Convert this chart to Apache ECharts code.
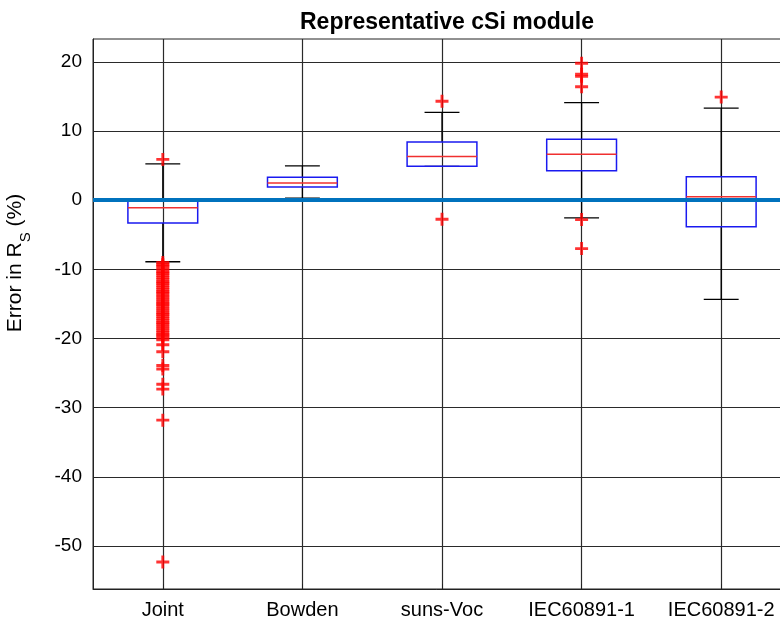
<!DOCTYPE html>
<html>
<head>
<meta charset="utf-8">
<script src="https://cdn.jsdelivr.net/npm/echarts@6/dist/echarts.min.js"></script>
<style>
  html, body { margin: 0; padding: 0; background: #fff; }
  #chart { width: 780px; height: 622px; }
</style>
</head>
<body>
<div id="chart"></div>
<script>
// categories along x (positions 1..5)
const categories = ["Joint", "Bowden", "suns-Voc", "IEC60891-1", "IEC60891-2"];
const yTicks = [-50, -40, -30, -20, -10, 0, 10, 20];

// box stats per category: lower whisker, q1, median, q3, upper whisker
const lowWhisker = [-8.9, 0.3, 4.9, -2.55, -14.35];
const q1 = [-3.3, 1.9, 4.9, 4.25, -3.85];
const median = [-1.1, 2.5, 6.3, 6.65, 0.5];
const q3 = [0.15, 3.3, 8.4, 8.8, 3.4];
const highWhisker = [5.25, 4.95, 12.7, 14.1, 13.3];

// outliers per category
const jointOutliers = [5.9, -9.0, -9.3, -9.5, -9.8, -10.1, -10.4, -10.6, -10.9, -11.2, -11.5, -11.8,
  -12.0, -12.3, -12.6, -12.9, -13.2, -13.4, -13.7, -14.0, -14.3, -14.6, -14.9, -15.1, -15.4, -15.7,
  -16.0, -16.3, -16.5, -16.8, -17.1, -17.4, -17.7, -17.9, -18.2, -18.5, -18.8, -19.1, -19.4, -19.6,
  -19.9, -20.2, -20.9, -21.9, -23.9, -24.4, -26.6, -27.3, -31.8, -52.3];
const bowdenOutliers = [];
const sunsVocOutliers = [14.3, -2.75];
const iec1Outliers = [19.8, 18.2, 17.9, 16.4, -2.8, -7.0];
const iec2Outliers = [14.9];

const chart = echarts.init(document.getElementById("chart"));

const boxData = categories.map((c, i) => [i + 1, lowWhisker[i], q1[i], median[i], q3[i], highWhisker[i]]);
const outlierData = [];
[jointOutliers, bowdenOutliers, sunsVocOutliers, iec1Outliers, iec2Outliers].forEach((arr, i) => {
  arr.forEach(v => outlierData.push([i + 1, v]));
});

function renderBox(params, api) {
  const x = api.value(0);
  const pLow = api.coord([x, api.value(1)]);
  const pQ1 = api.coord([x, api.value(2)]);
  const pMed = api.coord([x, api.value(3)]);
  const pQ3 = api.coord([x, api.value(4)]);
  const pHigh = api.coord([x, api.value(5)]);
  const unit = api.size([1, 0])[0];
  const bw = unit * 0.5;
  const cw = unit * 0.25;
  const cx = pMed[0];
  const black = { stroke: "#000", lineWidth: 1.3 };
  return {
    type: "group",
    children: [
      { type: "line", shape: { x1: cx, y1: pHigh[1], x2: cx, y2: pQ3[1] }, style: black },
      { type: "line", shape: { x1: cx, y1: pQ1[1], x2: cx, y2: pLow[1] }, style: black },
      { type: "line", shape: { x1: cx - cw / 2, y1: pHigh[1], x2: cx + cw / 2, y2: pHigh[1] }, style: black },
      { type: "line", shape: { x1: cx - cw / 2, y1: pLow[1], x2: cx + cw / 2, y2: pLow[1] }, style: black },
      {
        type: "rect",
        shape: { x: cx - bw / 2, y: pQ3[1], width: bw, height: pQ1[1] - pQ3[1] },
        style: { fill: "none", stroke: "#1a1af0", lineWidth: 1.5 }
      },
      {
        type: "line",
        shape: { x1: cx - bw / 2, y1: pMed[1], x2: cx + bw / 2, y2: pMed[1] },
        style: { stroke: "#f03030", lineWidth: 1.5 }
      }
    ]
  };
}

const option = {
  backgroundColor: "#fff",
  animation: false,
  title: {
    text: "Representative cSi module",
    left: 442,
    top: 6,
    textAlign: "center",
    textStyle: { fontFamily: "Liberation Sans, Arial", fontSize: 23, fontWeight: "bold", color: "#000" }
  },
  grid: {
    left: 93,
    top: 39,
    right: -11,
    bottom: 33,
    outerBoundsMode: "none",
    show: true,
    borderColor: "#222",
    borderWidth: 1
  },
  xAxis: {
    type: "value",
    min: 0.5,
    max: 5.5,
    axisLine: { show: true, onZero: false, lineStyle: { color: "#222", width: 1 } },
    axisTick: { show: true, inside: true, length: 5, customValues: [1, 2, 3, 4, 5], lineStyle: { color: "#222" } },
    axisLabel: {
      customValues: [1, 2, 3, 4, 5],
      formatter: v => categories[Math.round(v) - 1],
      margin: 11,
      fontSize: 20,
      fontFamily: "Liberation Sans, Arial",
      color: "#000"
    },
    splitLine: { show: true, lineStyle: { color: "#2a2a2a", width: 1.2 } }
  },
  yAxis: {
    type: "value",
    min: -56.2,
    max: 23.3,
    axisLine: { show: true, lineStyle: { color: "#222", width: 1 } },
    axisTick: { show: true, inside: true, length: 5, customValues: yTicks, lineStyle: { color: "#222" } },
    axisLabel: {
      customValues: yTicks,
      margin: 11,
      fontSize: 19,
      fontFamily: "Liberation Sans, Arial",
      color: "#000"
    },
    splitLine: { show: true, lineStyle: { color: "#2a2a2a", width: 1.2 } }
  },
  graphic: [
    {
      type: "text",
      x: 19,
      y: 263,
      rotation: Math.PI / 2,
      style: {
        text: "{a|Error in R}{s|S}{a| (%)}",
        align: "center",
        verticalAlign: "middle",
        rich: {
          a: { fontSize: 21, fontFamily: "Liberation Sans, Arial", fill: "#000", color: "#000", lineHeight: 28, verticalAlign: "top" },
          s: { fontSize: 15, fontFamily: "Liberation Sans, Arial", fill: "#000", color: "#000", lineHeight: 28, padding: [13, 0, 0, 0] }
        }
      }
    }
  ],
  series: [
    {
      type: "custom",
      renderItem: renderBox,
      data: boxData,
      z: 3,
      silent: true
    },
    {
      type: "scatter",
      data: outlierData,
      symbol: "path://M3.9,0H6.1V3.9H10V6.1H6.1V10H3.9V6.1H0V3.9H3.9Z",
      symbolSize: 13,
      itemStyle: { color: "#ff0000" },
      z: 4,
      silent: true
    },
    {
      type: "line",
      data: [],
      silent: true,
      z: 5,
      markLine: {
        symbol: "none",
        silent: true,
        label: { show: false },
        lineStyle: { color: "#0072bd", width: 4, type: "solid" },
        data: [{ yAxis: 0 }]
      }
    }
  ]
};

chart.setOption(option);
</script>
</body>
</html>
